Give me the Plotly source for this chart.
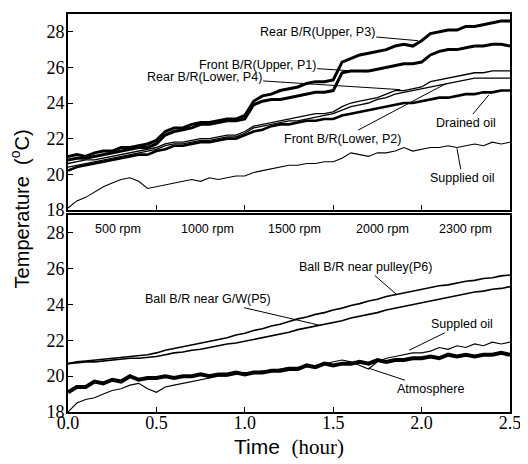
import plotly.graph_objects as go

# Time axis (hour)
t_hr = [0.00, 0.05, 0.10, 0.15, 0.20, 0.25, 0.30, 0.35, 0.40, 0.45,
        0.50, 0.55, 0.60, 0.65, 0.70, 0.75, 0.80, 0.85, 0.90, 0.95,
        1.00, 1.05, 1.10, 1.15, 1.20, 1.25, 1.30, 1.35, 1.40, 1.45,
        1.50, 1.55, 1.60, 1.65, 1.70, 1.75, 1.80, 1.85, 1.90, 1.95,
        2.00, 2.05, 2.10, 2.15, 2.20, 2.25, 2.30, 2.35, 2.40, 2.45, 2.50]

# Top panel (roller bearings, oil)
rear_upper_p3 = [21.0, 21.1, 21.0, 21.2, 21.3, 21.3, 21.5, 21.5, 21.6, 21.7,
                 21.9, 22.4, 22.6, 22.6, 22.8, 22.9, 22.9, 23.0, 23.1, 23.1,
                 23.3, 24.1, 24.4, 24.5, 24.7, 24.8, 24.9, 25.1, 25.2, 25.2,
                 25.3, 26.3, 26.5, 26.7, 26.8, 26.9, 27.0, 27.2, 27.3, 27.2,
                 27.5, 27.9, 28.0, 28.1, 28.1, 28.3, 28.3, 28.4, 28.5, 28.6, 28.6]
front_upper_p1 = [20.8, 20.9, 20.9, 21.0, 21.1, 21.2, 21.3, 21.4, 21.5, 21.5,
                  21.7, 22.2, 22.4, 22.5, 22.6, 22.8, 22.8, 22.9, 23.0, 23.0,
                  23.1, 23.9, 24.1, 24.2, 24.2, 24.3, 24.4, 24.5, 24.6, 24.6,
                  24.7, 25.7, 25.8, 25.8, 25.8, 25.9, 26.0, 26.1, 26.2, 26.2,
                  26.3, 26.7, 26.9, 27.0, 27.0, 27.1, 27.2, 27.2, 27.3, 27.3, 27.2]
rear_lower_p4 = [20.6, 20.7, 20.8, 20.8, 20.9, 21.0, 21.1, 21.2, 21.3, 21.4,
                 21.5, 21.7, 21.8, 21.8, 21.9, 22.0, 22.0, 22.1, 22.2, 22.2,
                 22.4, 22.7, 22.8, 22.9, 23.0, 23.1, 23.2, 23.3, 23.4, 23.4,
                 23.5, 23.8, 24.0, 24.1, 24.2, 24.3, 24.5, 24.7, 24.7, 24.8,
                 24.9, 25.2, 25.3, 25.4, 25.5, 25.6, 25.7, 25.7, 25.8, 25.8, 25.8]
front_lower_p2 = [20.4, 20.5, 20.6, 20.7, 20.8, 20.9, 21.0, 21.1, 21.2, 21.3,
                  21.4, 21.6, 21.7, 21.7, 21.8, 21.9, 21.9, 22.0, 22.1, 22.1,
                  22.3, 22.6, 22.7, 22.8, 22.9, 23.0, 23.0, 23.1, 23.2, 23.3,
                  23.4, 23.6, 23.8, 23.9, 24.0, 24.2, 24.3, 24.5, 24.6, 24.7,
                  24.8, 24.9, 25.0, 25.1, 25.2, 25.3, 25.4, 25.4, 25.4, 25.4, 25.4]
drained_oil = [20.2, 20.4, 20.5, 20.6, 20.7, 20.8, 20.9, 21.0, 21.1, 21.1,
               21.3, 21.4, 21.6, 21.6, 21.7, 21.8, 21.8, 21.9, 22.0, 22.0,
               22.2, 22.4, 22.5, 22.7, 22.8, 22.8, 22.9, 23.0, 23.0, 23.1,
               23.1, 23.3, 23.4, 23.5, 23.6, 23.7, 23.8, 23.9, 24.0, 24.0,
               24.1, 24.2, 24.3, 24.3, 24.4, 24.5, 24.5, 24.6, 24.6, 24.7, 24.7]
supplied_oil_top = [18.1, 18.5, 18.7, 19.0, 19.3, 19.5, 19.7, 19.8, 19.6, 19.2,
                    19.3, 19.4, 19.5, 19.6, 19.7, 19.6, 19.8, 19.7, 19.8, 19.9,
                    19.9, 20.1, 20.2, 20.3, 20.4, 20.5, 20.5, 20.6, 20.6, 20.7,
                    20.7, 20.9, 21.2, 21.1, 21.0, 21.2, 21.2, 21.3, 21.5, 21.3,
                    21.4, 21.5, 21.5, 21.6, 21.5, 21.6, 21.7, 21.6, 21.8, 21.7, 21.8]

# Bottom panel (ball bearings, oil, atmosphere)
ball_pulley_p6 = [20.7, 20.8, 20.85, 20.9, 20.95, 21.0, 21.05, 21.1, 21.15, 21.2,
                  21.3, 21.45, 21.55, 21.65, 21.75, 21.85, 21.95, 22.05, 22.15, 22.3,
                  22.4, 22.55, 22.65, 22.8, 22.9, 23.05, 23.2, 23.3, 23.45, 23.55,
                  23.7, 23.8, 23.95, 24.05, 24.2, 24.3, 24.45, 24.55, 24.65, 24.75,
                  24.85, 24.95, 25.05, 25.1, 25.2, 25.3, 25.35, 25.45, 25.5, 25.6, 25.65]
ball_gw_p5 = [20.7, 20.75, 20.8, 20.8, 20.85, 20.9, 20.95, 21.0, 21.0, 21.05,
              21.1, 21.2, 21.3, 21.35, 21.45, 21.5, 21.6, 21.7, 21.8, 21.85,
              21.95, 22.05, 22.15, 22.25, 22.35, 22.45, 22.6, 22.7, 22.8, 22.9,
              23.0, 23.1, 23.25, 23.35, 23.45, 23.55, 23.7, 23.8, 23.9, 24.0,
              24.1, 24.2, 24.3, 24.4, 24.5, 24.6, 24.7, 24.75, 24.85, 24.9, 25.0]
atmosphere = [19.1, 19.4, 19.4, 19.7, 19.6, 19.8, 19.7, 20.0, 19.8, 19.9,
              19.9, 20.0, 19.9, 20.0, 20.0, 20.1, 20.0, 20.1, 20.1, 20.2,
              20.1, 20.2, 20.2, 20.3, 20.3, 20.4, 20.4, 20.6, 20.5, 20.7,
              20.6, 20.7, 20.7, 20.8, 20.7, 20.9, 20.8, 20.9, 20.9, 21.0,
              21.0, 21.1, 21.0, 21.2, 21.1, 21.2, 21.1, 21.2, 21.2, 21.3, 21.2]
supplied_oil_bot = [18.0, 18.5, 18.7, 18.8, 19.0, 19.2, 19.3, 19.5, 19.6, 19.3,
                    19.1, 19.4, 19.5, 19.6, 19.7, 19.8, 19.9, 20.0, 20.0, 20.1,
                    20.2, 20.2, 20.3, 20.3, 20.4, 20.5, 20.5, 20.6, 20.6, 20.7,
                    20.8, 20.9, 20.8, 20.6, 20.4, 20.8, 21.0, 21.1, 21.2, 21.3,
                    21.3, 21.4, 21.6, 21.5, 21.7, 21.6, 21.8, 21.7, 21.9, 21.8, 21.9]

rpm_labels = ["500 rpm", "1000 rpm", "1500 rpm", "2000 rpm", "2300 rpm"]
rpm_x = [0.28, 0.79, 1.28, 1.78, 2.25]

fig = go.Figure()

top = [
    (rear_upper_p3, 3.0),
    (front_upper_p1, 3.0),
    (rear_lower_p4, 1.3),
    (front_lower_p2, 1.3),
    (drained_oil, 2.6),
    (supplied_oil_top, 1.1),
]
for ys, w in top:
    fig.add_trace(go.Scatter(x=t_hr, y=ys, mode='lines', xaxis='x2', yaxis='y2',
                             line=dict(color='black', width=w), showlegend=False))

bottom = [
    (ball_pulley_p6, 1.6),
    (ball_gw_p5, 1.6),
    (supplied_oil_bot, 1.1),
    (atmosphere, 4.0),
]
for ys, w in bottom:
    fig.add_trace(go.Scatter(x=t_hr, y=ys, mode='lines', xaxis='x', yaxis='y',
                             line=dict(color='black', width=w), showlegend=False))

lab_font = dict(family='Liberation Sans, Arial', size=12.5, color='black')


def label(text, tx, ty, hx, hy, ax_name):
    xr, yr = ('x2', 'y2') if ax_name == 'top' else ('x', 'y')
    fig.add_annotation(text=text, x=hx, y=hy, ax=tx, ay=ty, xref=xr, yref=yr,
                       axref=xr, ayref=yr, showarrow=True, arrowhead=0,
                       arrowwidth=1, arrowcolor='black', font=lab_font)


label('Rear B/R(Upper, P3)', 1.41, 28.0, 1.98, 27.5, 'top')
label('Front B/R(Upper, P1)', 1.07, 26.15, 1.69, 25.75, 'top')
label('Rear B/R(Lower, P4)', 0.77, 25.45, 1.88, 24.75, 'top')
label('Drained oil', 2.25, 22.9, 2.38, 24.45, 'top')
label('Front B/R(Lower, P2)', 1.55, 22.0, 2.14, 25.1, 'top')
label('Supplied oil', 2.23, 19.8, 2.2, 21.45, 'top')

label('Ball B/R near pulley(P6)', 1.68, 26.1, 1.86, 24.55, 'bot')
label('Ball B/R near G/W(P5)', 0.79, 24.3, 1.42, 22.85, 'bot')
label('Suppled oil', 2.23, 22.9, 1.93, 21.45, 'bot')
label('Atmosphere', 2.05, 19.3, 1.70, 20.45, 'bot')

for txt, xv in zip(rpm_labels, rpm_x):
    fig.add_annotation(text=txt, x=xv, y=28.2, xref='x', yref='y',
                       showarrow=False, font=lab_font)

# axis titles
fig.add_annotation(text='Temperature  (<sup>o</sup>C)', x=-0.11, y=0.51,
                   xref='paper', yref='paper', textangle=-90, showarrow=False,
                   xanchor='center', yanchor='middle',
                   font=dict(family='Liberation Sans, Arial', size=20, color='black'))
fig.add_annotation(text='Time  <span style="font-family:Liberation Serif">(hour)</span>',
                   x=0.5, y=-0.088, xref='paper', yref='paper', showarrow=False,
                   xanchor='center', yanchor='middle',
                   font=dict(family='Liberation Sans, Arial', size=21, color='black'))

tick_font = dict(family='Liberation Serif, Times New Roman', size=18, color='black')
ax_common = dict(showline=True, linecolor='black', linewidth=1.6, mirror=True,
                 ticks='inside', ticklen=5, tickcolor='black', showgrid=False,
                 zeroline=False, tickfont=tick_font)

# page body adds 8px offset, so the figure is a bit smaller than the window
fig.update_layout(
    width=520, height=456,
    margin=dict(l=60, r=18, t=4, b=52),
    plot_bgcolor='white', paper_bgcolor='white',
    xaxis=dict(range=[0, 2.5], tickvals=[0, 0.5, 1, 1.5, 2, 2.5],
               ticktext=['0.0', '0.5', '1.0', '1.5', '2.0', '2.5'],
               ticklabelstandoff=-6, anchor='y', **ax_common),
    yaxis=dict(range=[18, 29], domain=[0, 0.495], tickvals=[18, 20, 22, 24, 26, 28],
               ticklabelstandoff=-2, anchor='x', **ax_common),
    xaxis2=dict(range=[0, 2.5], tickvals=[0, 0.5, 1, 1.5, 2, 2.5],
                showticklabels=False, anchor='y2', **ax_common),
    yaxis2=dict(range=[18, 29], domain=[0.508, 1.0], tickvals=[18, 20, 22, 24, 26, 28],
                ticklabelstandoff=-2, anchor='x2', **ax_common),
)

fig.write_html("out.html")
